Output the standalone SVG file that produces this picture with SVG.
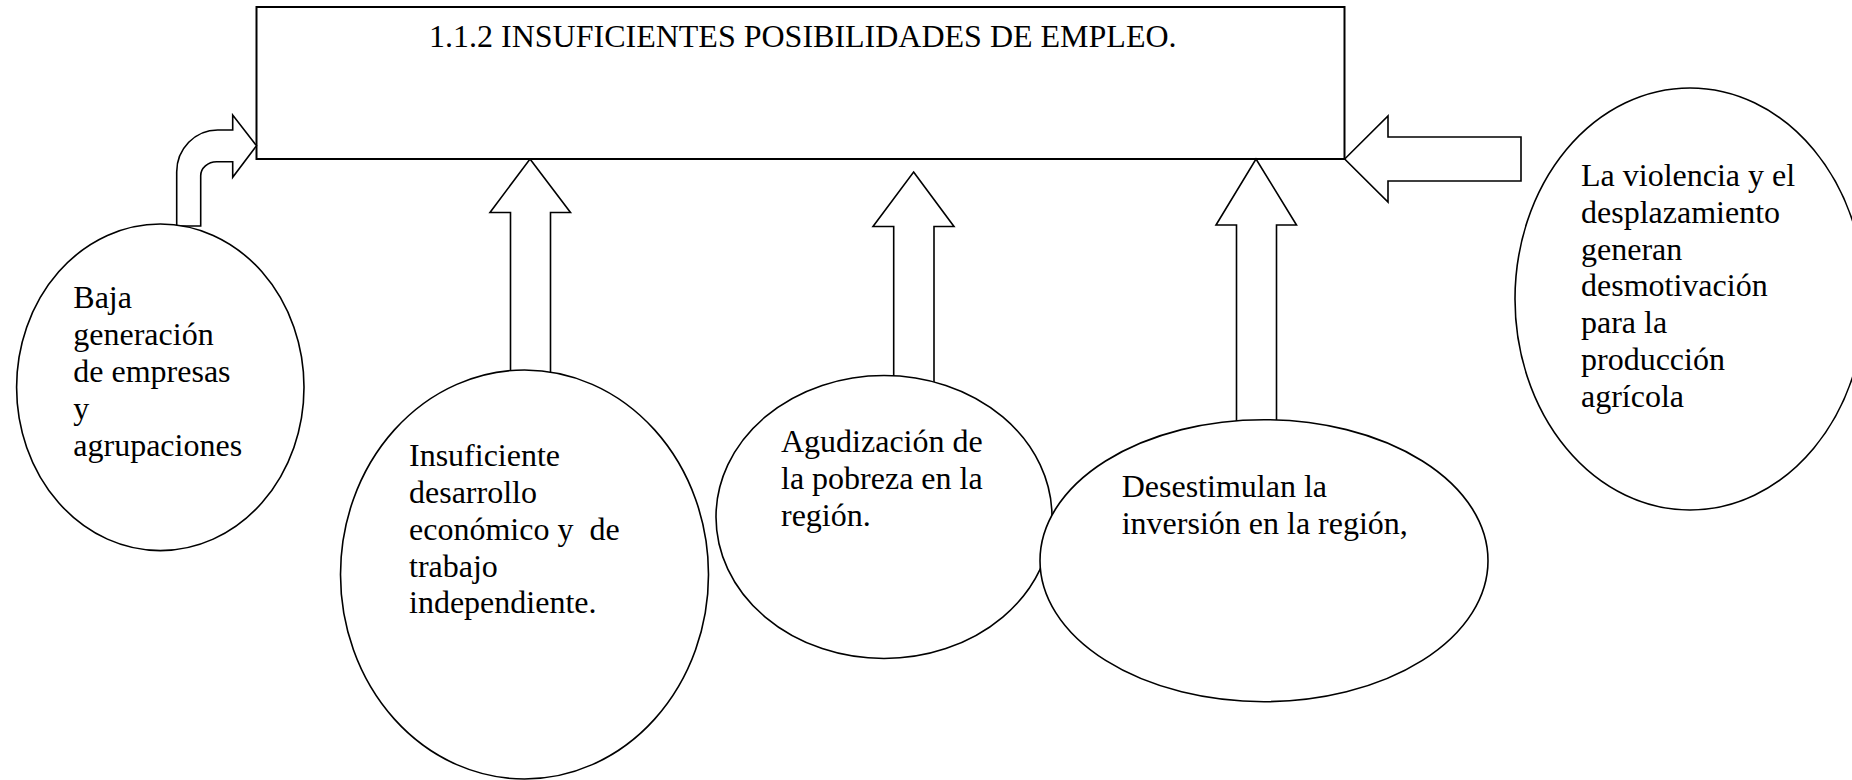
<svg xmlns="http://www.w3.org/2000/svg" width="1852" height="780" viewBox="0 0 1852 780">
<style>
.box{fill:#fff;stroke:#000;stroke-width:2}
.node{fill:#fff;stroke:#000;stroke-width:1.6}
.arrow{fill:#fff;stroke:#000;stroke-width:1.6;stroke-linejoin:miter}
.t{font-family:"Liberation Serif","Times New Roman",serif;font-size:32px;fill:#000;white-space:pre}
</style>
<rect x="0" y="0" width="1852" height="780" fill="#fff"/>
<g id="problema">
<rect class="box" x="256.5" y="7" width="1088" height="152"/>
<text class="t" x="429" y="47">1.1.2 INSUFICIENTES POSIBILIDADES DE EMPLEO.</text>
</g>
<g id="connectors">
<path class="arrow" d="M176.7,226 L176.7,172 A41,42 0 0 1 217.7,130 L232.7,130 L232.7,115 L256.5,145.7 L232.7,177.3 L232.7,161.7 L216.7,161.7 A16,14 0 0 0 200.7,175.7 L200.7,226 Z"/>
<path class="arrow" d="M530,159 L570.5,212.5 L550.5,212.5 L550.5,376 L510.5,376 L510.5,212.5 L490,212.5 Z"/>
<path class="arrow" d="M913.6,172 L954,226.5 L934,226.5 L934,386 L893.7,386 L893.7,226.5 L873,226.5 Z"/>
<path class="arrow" d="M1256,159 L1296.5,225 L1276.5,225 L1276.5,426 L1236.5,426 L1236.5,225 L1216,225 Z"/>
<path class="arrow" d="M1344.7,159 L1388,116 L1388,137 L1521,137 L1521,181 L1388,181 L1388,202 Z"/>
</g>
<g id="baja-generacion">
<ellipse class="node" cx="160.3" cy="387.3" rx="143.7" ry="163.3"/>
<text class="t" x="73.3" y="308">Baja</text>
<text class="t" x="73.3" y="345">generación</text>
<text class="t" x="73.3" y="382">de empresas</text>
<text class="t" x="73.3" y="419">y</text>
<text class="t" x="73.3" y="456">agrupaciones</text>
</g>
<g id="insuficiente-desarrollo">
<ellipse class="node" cx="524.5" cy="574.5" rx="184" ry="204.5"/>
<text class="t" x="409" y="466">Insuficiente</text>
<text class="t" x="409" y="503">desarrollo</text>
<text class="t" x="409" y="540" xml:space="preserve">económico y  de</text>
<text class="t" x="409" y="577">trabajo</text>
<text class="t" x="409" y="613">independiente.</text>
</g>
<g id="agudizacion-pobreza">
<ellipse class="node" cx="884" cy="517" rx="168" ry="141.5"/>
<text class="t" x="781" y="452">Agudización de</text>
<text class="t" x="781" y="489">la pobreza en la</text>
<text class="t" x="781" y="526">región.</text>
</g>
<g id="desestimulan-inversion">
<ellipse class="node" cx="1264" cy="560.7" rx="224" ry="141"/>
<text class="t" x="1121.7" y="497">Desestimulan la</text>
<text class="t" x="1121.7" y="534">inversión en la región,</text>
</g>
<g id="violencia-desplazamiento">
<ellipse class="node" cx="1690" cy="299" rx="175" ry="211"/>
<text class="t" x="1581" y="186">La violencia y el</text>
<text class="t" x="1581" y="222.8">desplazamiento</text>
<text class="t" x="1581" y="259.6">generan</text>
<text class="t" x="1581" y="296.4">desmotivación</text>
<text class="t" x="1581" y="333.2">para la</text>
<text class="t" x="1581" y="370">producción</text>
<text class="t" x="1581" y="406.8">agrícola</text>
</g>
</svg>
